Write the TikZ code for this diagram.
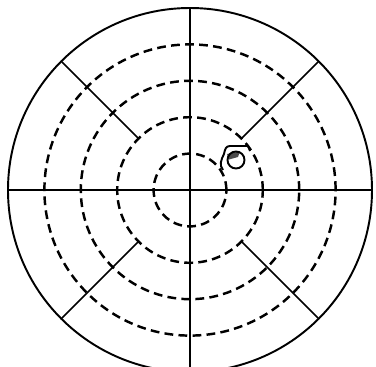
\documentclass[tikz,border=0pt]{standalone}
\usetikzlibrary{calc}
\begin{document}
\begin{tikzpicture}[x=0.02cm,y=0.02cm]
  \def\R{182}
  \def\r{36.4}
    \useasboundingbox (-190,-176) rectangle (186,190);
    \clip (-190,-176) rectangle (186,190);
    \coordinate (O) at (0,0);
    % dashed rings
    \foreach \k in {1,...,4}
      \draw[line width=1.4pt, dash pattern=on 5pt off 3pt] (O) circle (\k*\r);
    % outer circle
    \draw[line width=1.1pt] (O) circle (\R);
    % axes
    \draw[line width=0.9pt] (-\R,0) -- (\R,0);
    \draw[line width=0.9pt] (0,-\R) -- (0,\R);
    % spokes
    \foreach \a in {45,135,225,315}
      \draw[line width=0.9pt] (\a:2*\r) -- (\a:\R);
    % spot
    \fill[black!70] (37,36) -- (50,38.5) -- (48,33) -- (39,30.5) -- cycle;
    \draw[line width=1.1pt, line join=round] (33,20) .. controls (29,25) and (31,30) .. (34,36)
      .. controls (35,41) and (36,44) .. (40,44) -- (58,44) -- (60,39);
    \draw[line width=1.1pt] (46,30) circle (8.5);
\end{tikzpicture}
\end{document}
